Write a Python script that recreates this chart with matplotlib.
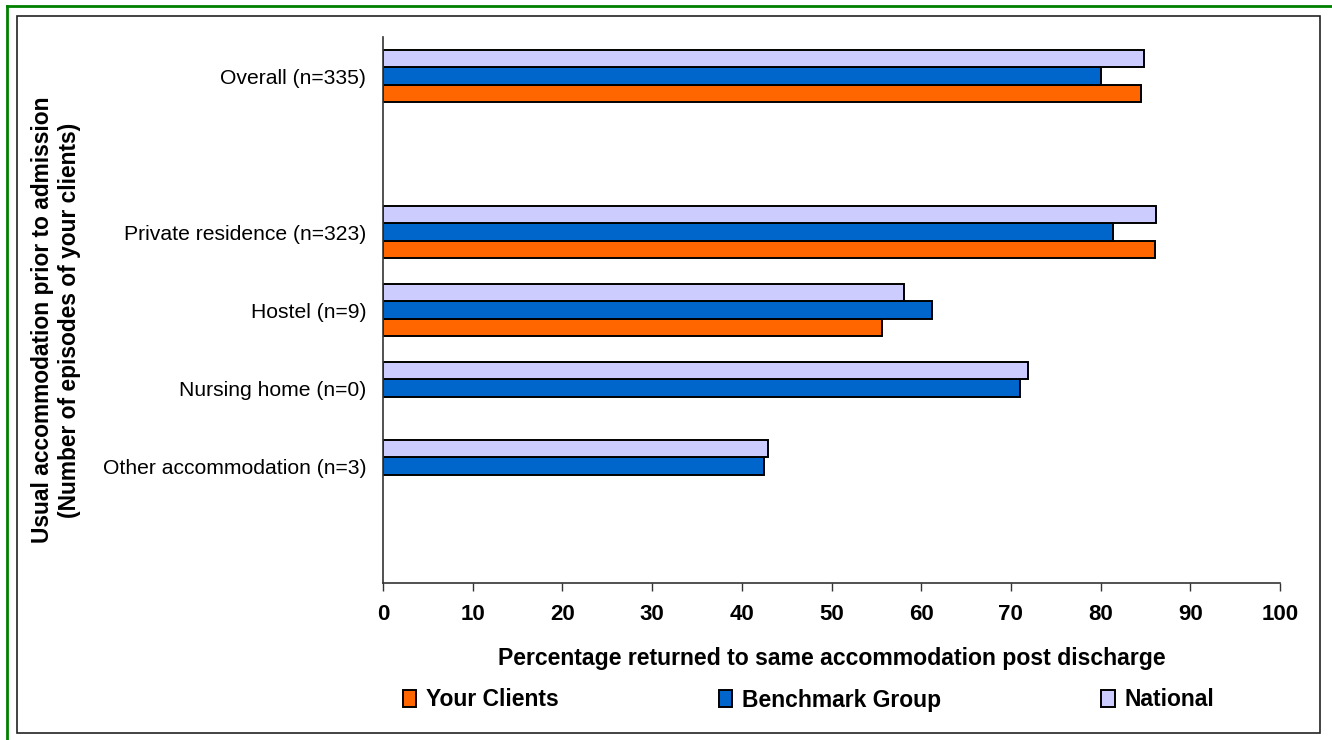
import numpy as np
import matplotlib
matplotlib.use("Agg")
import matplotlib.pyplot as plt
from matplotlib.patches import Patch, Rectangle
from matplotlib.lines import Line2D

plt.rcParams['font.family'] = ['Liberation Sans', 'DejaVu Sans']

############## Données ##############
categories = ["Overall (n=335)", "", "Private residence (n=323)", "Hostel (n=9)",
              "Nursing home (n=0)", "Other accommodation (n=3)", ""]
your_clients = [84.5, np.nan, 86.1, 55.6, np.nan, np.nan, np.nan]
benchmark = [80.0, np.nan, 81.4, 61.2, 71.0, 42.5, np.nan]
national = [84.8, np.nan, 86.2, 58.1, 71.9, 42.9, np.nan]
series_names = ["Your Clients", "Benchmark Group", "National"]
xticks = [0, 10, 20, 30, 40, 50, 60, 70, 80, 90, 100]

col_clients = "#FF6600"
col_bench = "#0066CC"
col_nat = "#CCCCFF"

############## Figure ##############
fig = plt.figure(figsize=(13.32, 7.4), dpi=100)
ax = fig.add_axes([383/1332, 1-583/740, (1280-383)/1332, (583-37)/740])

y = np.arange(len(categories))
h = 0.222
ax.barh(y + h, your_clients, height=h, color=col_clients, edgecolor="black", linewidth=1.4)
ax.barh(y, benchmark, height=h, color=col_bench, edgecolor="black", linewidth=1.4)
ax.barh(y - h, national, height=h, color=col_nat, edgecolor="black", linewidth=1.4)

ax.set_ylim(len(categories) - 0.5, -0.5)
ax.set_xlim(0, 100)
ax.set_xticks(xticks)
ax.set_xticklabels([str(t) for t in xticks], fontsize=16, fontweight="bold")
ax.tick_params(axis="x", length=6, width=1, direction="out", pad=9, color="#333333")
ax.set_yticks(y)
ax.set_yticklabels(categories, fontsize=15.2)
ax.tick_params(axis="y", length=0, pad=12)

for s in ["top", "right"]:
    ax.spines[s].set_visible(False)
for s in ["left", "bottom"]:
    ax.spines[s].set_color("#333333")
    ax.spines[s].set_linewidth(1.2)

ax.set_xlabel("Percentage returned to same accommodation post discharge",
              fontsize=16.6, fontweight="bold", labelpad=16)
fig.text(56/1332, 1-320/740, "Usual accommodation prior to admission\n(Number of episodes of your clients)",
         rotation=90, ha="center", va="center", fontsize=16.4, fontweight="bold",
         multialignment="center", linespacing=1.2)

# légende
handles = [Patch(facecolor=c, edgecolor="black", linewidth=1.4) for c in (col_clients, col_bench, col_nat)]
fig.legend(handles, series_names, loc="center left", ncol=3, frameon=False,
           bbox_to_anchor=(382/1332, 1-700/740), prop={"size": 16.5, "weight": "bold"},
           handlelength=0.6, handleheight=0.8, handletextpad=0.4, columnspacing=7.0)

# cadres
fig.patches.append(Rectangle((17/1332, 1-733/740), (1320-17)/1332, (733-16)/740,
                             transform=fig.transFigure, fill=False, edgecolor="#222222", linewidth=1.2))
fig.lines.append(Line2D([7/1332, 7/1332], [0, 1-6/740], transform=fig.transFigure, color="green", linewidth=2))
fig.lines.append(Line2D([7/1332, 1], [1-6/740, 1-6/740], transform=fig.transFigure, color="green", linewidth=2))

fig.savefig("out.png", dpi=100)
